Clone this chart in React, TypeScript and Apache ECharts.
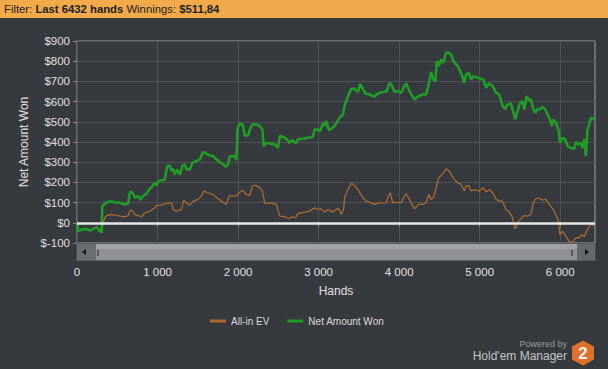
import { useEffect, useRef } from 'react';
import * as echarts from 'echarts';

const FONT = '"Liberation Sans", Arial, sans-serif';

const seriesNames = ['All-in EV', 'Net Amount Won'];
const totalHands = 6432;
const xTickValues = [0, 1000, 2000, 3000, 4000, 5000, 6000];

const handsNet = [
  0, 17, 58, 120, 161, 202, 244, 277, 293, 306, 314, 326, 368, 409, 471, 533, 595, 636, 657, 690,
  719, 760, 789, 822, 864, 905, 938, 967, 988, 1008, 1050, 1091, 1120, 1153, 1174, 1194, 1215, 1244, 1277, 1310,
  1339, 1360, 1401, 1434, 1475, 1525, 1566, 1607, 1649, 1690, 1731, 1773, 1814, 1847, 1876, 1897, 1930, 1959, 1979, 1992,
  2012, 2041, 2062, 2083, 2124, 2153, 2178, 2227, 2269, 2302, 2318, 2351, 2393, 2455, 2496, 2517, 2558, 2599, 2640, 2674,
  2715, 2744, 2806, 2868, 2930, 2950, 2992, 3021, 3054, 3074, 3095, 3128, 3157, 3198, 3219, 3252, 3281, 3302, 3322, 3364,
  3405, 3446, 3488, 3517, 3550, 3583, 3632, 3694, 3736, 3798, 3847, 3880, 3909, 3942, 3983, 4025, 4054, 4087, 4128, 4190,
  4231, 4293, 4335, 4368, 4397, 4426, 4450, 4467, 4492, 4521, 4550, 4574, 4603, 4645, 4674, 4727, 4769, 4810, 4831, 4864,
  4893, 4922, 4975, 5045, 5079, 5112, 5161, 5203, 5244, 5285, 5318, 5347, 5388, 5409, 5442, 5471, 5500, 5533, 5554, 5583,
  5608, 5637, 5665, 5690, 5719, 5748, 5781, 5814, 5843, 5872, 5897, 5913, 5946, 5979, 5996, 6029, 6062, 6091, 6132, 6174,
  6194, 6227, 6256, 6277, 6298, 6318, 6339, 6360, 6380, 6422, 6432,
];
const netWon = [
  0, -41, -33, -30, -38, -30, -20, -41, -33, -50, 83, 86, 102, 106, 102, 99, 91, 96, 153, 149,
  124, 132, 116, 132, 145, 168, 182, 198, 185, 206, 211, 215, 281, 284, 256, 267, 239, 264, 239, 284,
  289, 264, 264, 297, 305, 314, 350, 343, 333, 330, 314, 300, 289, 277, 289, 330, 327, 333, 310, 462,
  487, 490, 479, 432, 432, 470, 487, 487, 479, 462, 380, 396, 393, 388, 371, 429, 426, 416, 396, 409,
  393, 413, 416, 421, 426, 462, 462, 454, 495, 479, 503, 459, 465, 479, 492, 515, 528, 536, 578, 627,
  663, 663, 647, 688, 663, 640, 635, 624, 640, 647, 652, 693, 680, 647, 652, 644, 668, 690, 652, 611,
  624, 635, 635, 685, 746, 710, 701, 800, 776, 809, 792, 833, 845, 833, 800, 776, 743, 693, 734, 743,
  710, 726, 718, 710, 668, 690, 677, 644, 635, 578, 564, 586, 591, 561, 512, 553, 594, 602, 561, 627,
  607, 611, 564, 545, 564, 561, 574, 561, 536, 512, 479, 512, 495, 462, 396, 421, 413, 380, 371, 366,
  399, 388, 396, 371, 413, 330, 462, 487, 520, 515, 512,
];

const handsEV = [
  0, 17, 58, 120, 161, 202, 244, 277, 293, 306, 326, 347, 368, 409, 471, 533, 595, 636, 657, 690,
  719, 760, 802, 843, 905, 967, 988, 1029, 1070, 1120, 1174, 1194, 1236, 1298, 1326, 1360, 1401, 1442, 1504, 1545,
  1574, 1607, 1649, 1690, 1752, 1814, 1855, 1888, 1930, 1959, 1979, 2012, 2054, 2103, 2145, 2178, 2219, 2269, 2302, 2331,
  2393, 2475, 2517, 2579, 2640, 2674, 2715, 2744, 2806, 2888, 2950, 2992, 3033, 3074, 3116, 3178, 3219, 3252, 3281, 3310,
  3322, 3364, 3405, 3446, 3500, 3550, 3591, 3632, 3694, 3756, 3839, 3859, 3888, 3921, 3963, 4025, 4054, 4087, 4128, 4190,
  4244, 4293, 4335, 4368, 4397, 4426, 4459, 4492, 4521, 4550, 4583, 4624, 4657, 4686, 4727, 4769, 4810, 4831, 4864, 4893,
  4934, 4996, 5045, 5079, 5120, 5161, 5203, 5244, 5285, 5326, 5368, 5401, 5442, 5471, 5512, 5554, 5595, 5637, 5665, 5698,
  5731, 5781, 5822, 5864, 5913, 5946, 5979, 5996, 6029, 6070, 6112, 6153, 6194, 6236, 6269, 6298, 6318, 6351, 6380, 6422,
  6432,
];
const allInEV = [
  0, -41, -33, -30, -38, -30, -20, -41, -33, -45, 3, 25, 36, 41, 38, 33, 30, 36, 63, 58,
  41, 36, 30, 50, 58, 74, 86, 86, 91, 96, 99, 66, 58, 66, 112, 99, 86, 107, 116, 132,
  157, 152, 145, 140, 119, 102, 91, 132, 135, 132, 132, 149, 162, 140, 135, 182, 186, 173, 157, 96,
  99, 91, 33, 30, 20, 30, 25, 46, 50, 58, 74, 66, 69, 53, 66, 53, 66, 69, 41, 66,
  124, 165, 195, 185, 157, 124, 107, 102, 91, 99, 99, 124, 149, 99, 102, 99, 124, 145, 116, 69,
  91, 91, 99, 140, 116, 124, 173, 223, 234, 248, 267, 256, 231, 215, 198, 190, 157, 182, 185, 157,
  165, 157, 173, 152, 165, 149, 116, 107, 107, 66, 53, 33, -30, 0, 20, 36, 33, 41, 99, 119,
  124, 112, 116, 91, 66, 41, 8, -58, -41, -66, -92, -97, -74, -74, -58, -69, -50, -25, -8, -13,
  -10,
];

const filterHands = 'Last 6432 hands';
const winnings = '$511,84';

function fmtThousands(v: number) {
  if (v < 1000) return String(v);
  return `${Math.floor(v / 1000)} ${String(v % 1000).padStart(3, '0')}`;
}

export default function App() {
  const ref = useRef<HTMLDivElement>(null);
  useEffect(() => {
    const chart = echarts.init(ref.current!, null, { renderer: 'svg' });
    const netData = handsNet.map((h, i) => [h, netWon[i]]);
    const evData = handsEV.map((h, i) => [h, allInEV[i]]);
    chart.setOption({
      animation: false,
      backgroundColor: '#36393d',
      textStyle: { fontFamily: FONT },
      grid: {
        left: 77,
        top: 41,
        right: 13,
        bottom: 126,
        show: true,
        borderColor: '#7b7e82',
        borderWidth: 1.5,
        containLabel: false,
        outerBoundsMode: 'none',
      },
      legend: {
        data: seriesNames,
        left: 205,
        top: 311,
        icon: 'rect',
        itemWidth: 16,
        itemHeight: 3,
        itemGap: 18,
        textStyle: { color: '#dcdcdc', fontSize: 10, fontFamily: FONT },
      },
      xAxis: {
        type: 'value',
        min: 0,
        max: totalHands,
        interval: 1000,
        offset: 18,
        name: 'Hands',
        nameLocation: 'middle',
        nameGap: 24,
        nameTextStyle: { color: '#e0e0e0', fontSize: 12, fontFamily: FONT },
        axisLine: { show: false },
        axisTick: { show: true, length: 4, lineStyle: { color: '#8a8d90' }, customValues: xTickValues },
        axisLabel: {
          color: '#e0e0e0',
          fontSize: 11.5,
          fontFamily: FONT,
          margin: 5,
          customValues: xTickValues,
          formatter: (v: number) => fmtThousands(v),
        },
        splitLine: { show: true, lineStyle: { color: '#4e5256', width: 1 } },
      },
      yAxis: {
        type: 'value',
        min: -100,
        max: 900,
        interval: 100,
        name: 'Net Amount Won',
        nameLocation: 'middle',
        nameGap: 47,
        nameTextStyle: { color: '#e0e0e0', fontSize: 12, fontFamily: FONT },
        axisLine: { show: false },
        axisTick: { show: true, length: 4, lineStyle: { color: '#8a8d90' } },
        axisLabel: {
          color: '#e0e0e0',
          fontSize: 11.5,
          fontFamily: FONT,
          margin: 7,
          formatter: (v: number) => `$${v}`,
        },
        splitLine: { show: true, lineStyle: { color: '#4e5256', width: 1 } },
      },
      series: [
        {
          name: seriesNames[0],
          type: 'line',
          data: evData,
          showSymbol: false,
          symbol: 'none',
          lineStyle: { color: '#ad6a2e', width: 1.3 },
          itemStyle: { color: '#ad6a2e' },
          z: 2,
        },
        {
          name: seriesNames[1],
          type: 'line',
          data: netData,
          showSymbol: false,
          symbol: 'none',
          lineStyle: { color: '#1f9e26', width: 2.6 },
          itemStyle: { color: '#1f9e26' },
          z: 3,
          markLine: {
            silent: true,
            symbol: 'none',
            label: { show: false },
            lineStyle: { color: '#e8e8e8', width: 2.5, type: 'solid' },
            data: [{ yAxis: 0 }],
            z: 10,
          },
        },
      ],
      graphic: [
        { type: 'rect', shape: { x: 0, y: 0, width: 608, height: 18 }, style: { fill: '#f0aa4a' }, z: 100 },
        {
          type: 'text',
          x: 4,
          y: 9,
          z: 101,
          style: {
            text: `{n|Filter: }{b|${filterHands}}{n| Winnings: }{b|${winnings}}`,
            verticalAlign: 'middle',
            rich: {
              n: { fontSize: 11.3, fontFamily: FONT, fill: '#1e1e1e', color: '#1e1e1e' },
              b: { fontSize: 11.3, fontFamily: FONT, fontWeight: 'bold', fill: '#1e1e1e', color: '#1e1e1e' },
            },
          },
        },
        // scrollbar
        { type: 'rect', shape: { x: 76.5, y: 243, width: 519, height: 18 }, style: { fill: '#55585c' }, z: 100 },
        { type: 'rect', shape: { x: 77, y: 244, width: 19, height: 16 }, style: { fill: '#6a6d71' }, z: 101 },
        { type: 'polygon', shape: { points: [[82, 252], [86, 249], [86, 255]] }, style: { fill: '#151515' }, z: 102 },
        { type: 'rect', shape: { x: 96, y: 244, width: 481, height: 16 }, style: { fill: '#8f9194' }, z: 101 },
        { type: 'rect', shape: { x: 96, y: 244, width: 481, height: 5 }, style: { fill: '#a0a2a5' }, z: 101 },
        { type: 'rect', shape: { x: 97, y: 250, width: 2, height: 6 }, style: { fill: '#55585b' }, z: 102 },
        { type: 'rect', shape: { x: 571, y: 250, width: 2, height: 6 }, style: { fill: '#55585b' }, z: 102 },
        { type: 'rect', shape: { x: 577, y: 244, width: 18, height: 16 }, style: { fill: '#65686c' }, z: 101 },
        { type: 'polygon', shape: { points: [[589, 252], [585, 249], [585, 255]] }, style: { fill: '#151515' }, z: 102 },
        // branding
        {
          type: 'text',
          x: 567,
          y: 344,
          z: 100,
          style: { text: 'Powered by', fontSize: 9, fontFamily: FONT, fill: '#9a9c9e', align: 'right', verticalAlign: 'middle' },
        },
        {
          type: 'text',
          x: 567,
          y: 355.5,
          z: 100,
          style: { text: "Hold'em Manager", fontSize: 12, fontFamily: FONT, fill: '#c4c6c8', align: 'right', verticalAlign: 'middle' },
        },
        {
          type: 'polygon',
          z: 100,
          shape: { points: [[583, 340.5], [594, 346.5], [594, 359.5], [583, 365.5], [572, 359.5], [572, 346.5]] },
          style: { fill: '#e0712b' },
        },
        {
          type: 'text',
          x: 583,
          y: 353.5,
          z: 101,
          style: { text: '2', fontSize: 17, fontWeight: 'bold', fontFamily: FONT, fill: '#f2f2f2', align: 'center', verticalAlign: 'middle' },
        },
      ],
    });
    return () => chart.dispose();
  }, []);
  return (
    <div
      ref={ref}
      style={{ position: 'fixed', left: 0, top: 0, width: 608, height: 369, background: '#36393d' }}
    />
  );
}
